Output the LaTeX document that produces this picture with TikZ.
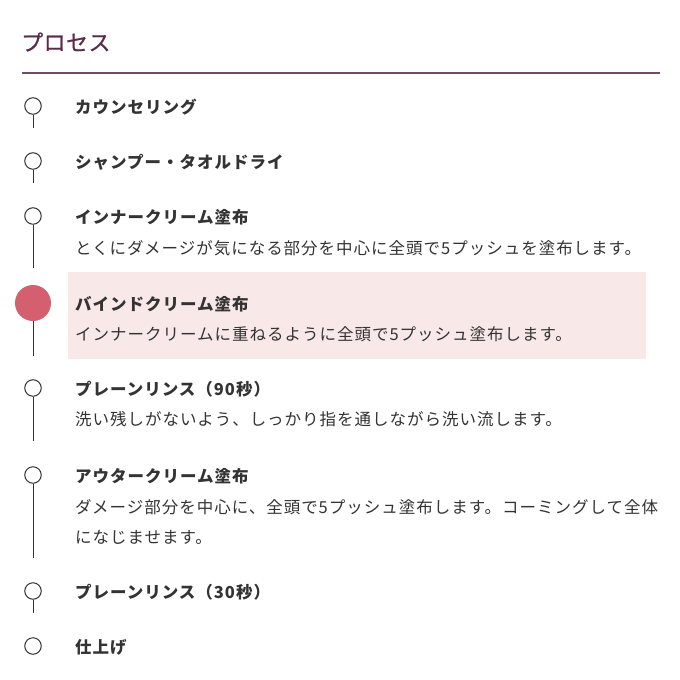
\documentclass[tikz,border=0pt]{standalone}
\usepackage{fontspec}
\setmainfont{Noto Sans CJK JP}
\newfontfamily\jpfont[LetterSpace=6]{Noto Sans CJK JP}
\newfontfamily\jphead[LetterSpace=2,FakeBold=0.6]{Noto Sans CJK JP}
\definecolor{headc}{HTML}{5A2A4A}
\definecolor{rulec}{HTML}{6E4D67}
\definecolor{dotc}{HTML}{D45F6F}
\definecolor{hlc}{HTML}{F9E8E8}
\definecolor{txtc}{HTML}{333333}
\tikzset{
  stepdot/.style={circle,draw=txtc,line width=1pt,fill=white,minimum size=16.5pt,inner sep=0pt},
  bigdot/.style={circle,fill=dotc,minimum size=36pt,inner sep=0pt},
  steptitle/.style={anchor=west,inner sep=0pt,yshift=-1pt,text=txtc,font=\jpfont\fontsize{16.5}{20}\selectfont\bfseries},
  stepdesc/.style={anchor=west,inner sep=0pt,yshift=-1pt,text=txtc,font=\jpfont\fontsize{16.5}{20}\selectfont},
  stem/.style={draw=txtc,line width=1pt}
}
\begin{document}
\begin{tikzpicture}[x=1pt,y=-1pt]
\useasboundingbox (0,0) rectangle (680,680);
\fill[white] (0,0) rectangle (680,680);
% header
\node[anchor=west,inner sep=0pt,text=headc,font=\jphead\fontsize{22}{26}\selectfont] (head) at (21,42) {プロセス};
\coordinate (rl) at (22,73);
\coordinate (rr) at (660,73);
\draw[rulec,line width=1.4pt] (rl) -- (rr);
% highlight box
\fill[hlc] (68,272) rectangle (646,359);
% steps
\node[stepdot] (c1) at (33,106) {};
\node[steptitle] (t1) at (75,106) {カウンセリング};
\coordinate (e1) at (33,128);
\draw[stem] (c1.south) -- (e1);

\node[stepdot] (c2) at (33,161) {};
\node[steptitle] (t2) at (75,161) {シャンプー・タオルドライ};
\coordinate (e2) at (33,183);
\draw[stem] (c2.south) -- (e2);

\node[stepdot] (c3) at (33,216) {};
\node[steptitle] (t3) at (75,216) {インナークリーム塗布};
\node[stepdesc] (d3) at (75,247) {とくにダメージが気になる部分を中心に全頭で5プッシュを塗布します。};
\coordinate (e3) at (33,268);
\draw[stem] (c3.south) -- (e3);

\node[bigdot] (c4) at (33,303) {};
\node[steptitle] (t4) at (75,303) {バインドクリーム塗布};
\node[stepdesc] (d4) at (75,333) {インナークリームに重ねるように全頭で5プッシュ塗布します。};
\coordinate (e4) at (33,356);
\draw[stem] (c4.south) -- (e4);

\node[stepdot] (c5) at (33,388) {};
\node[steptitle] (t5) at (75,388) {プレーンリンス（90秒）};
\node[stepdesc] (d5) at (75,418) {洗い残しがないよう、しっかり指を通しながら洗い流します。};
\coordinate (e5) at (33,441);
\draw[stem] (c5.south) -- (e5);

\node[stepdot] (c6) at (33,475) {};
\node[steptitle] (t6) at (75,475) {アウタークリーム塗布};
\node[stepdesc] (d6) at (75,506) {ダメージ部分を中心に、全頭で5プッシュ塗布します。コーミングして全体};
\node[stepdesc] (d6b) at (75,536) {になじませます。};
\coordinate (e6) at (33,558);
\draw[stem] (c6.south) -- (e6);

\node[stepdot] (c7) at (33,591) {};
\node[steptitle] (t7) at (75,591) {プレーンリンス（30秒）};
\coordinate (e7) at (33,613);
\draw[stem] (c7.south) -- (e7);

\node[stepdot] (c8) at (33,646) {};
\node[steptitle] (t8) at (75,646) {仕上げ};
\end{tikzpicture}
\end{document}
